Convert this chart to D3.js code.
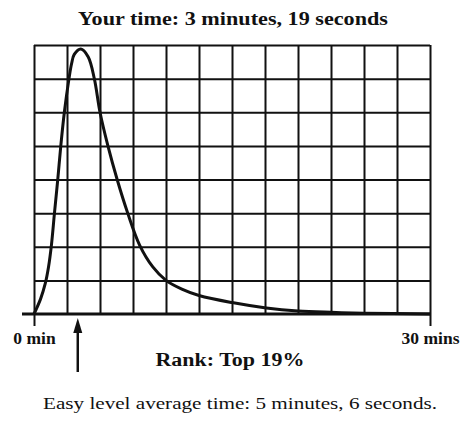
<!DOCTYPE html>
<html>
<head>
<meta charset="utf-8">
<script src="https://cdn.jsdelivr.net/npm/d3@7"></script>
<style>
  html, body { margin: 0; padding: 0; background: #fff; }
  svg { display: block; }
  text { font-family: "Liberation Serif", "Times New Roman", serif; fill: #111; }
</style>
</head>
<body>
<div class="container"></div>
<script>
// finishing times (minutes) and share of players
var minutes = [0, 0.5, 0.85, 1.1, 1.32, 1.55, 1.8, 2.03, 2.3, 2.65, 2.85, 3.05, 3.55, 4.1, 4.57, 5.0, 5.6, 6.3, 7.1, 8.0, 9.0, 10.0, 11.2, 12.5, 15.0, 17.6, 20, 22.5, 25, 30];
var players = [0, 0.45, 0.9, 1.4, 2.05, 3.0, 4.0, 5.0, 6.0, 7.0, 7.45, 7.72, 7.88, 7.65, 7.0, 6.0, 5.0, 4.0, 3.0, 2.05, 1.4, 1.0, 0.74, 0.55, 0.34, 0.18, 0.09, 0.05, 0.025, 0];

var gridMinutes = [0, 2.5, 5, 7.5, 10, 12.5, 15, 17.5, 20, 22.5, 25, 27.5, 30];
var gridLevels = [1, 2, 3, 4, 5, 6, 7, 8];
var axisTicks = [0, 30];
var axisLabels = ["0 min", "30 mins"];

var yourTime = 3 + 19 / 60;
var titleText = "Your time: 3 minutes, 19 seconds";
var rankText = "Rank: Top 19%";
var averageText = "Easy level average time: 5 minutes, 6 seconds.";

var config = {
    width: 464,
    height: 436,
    left: 34,
    right: 430,
    top: 45,
    bottom: 314
};

var svg = d3.select(".container").append("svg")
    .attr("width", config.width)
    .attr("height", config.height);

svg.append("rect")
    .attr("width", config.width)
    .attr("height", config.height)
    .attr("fill", "#fff");

var x = d3.scaleLinear().domain([0, 30]).range([config.left, config.right]);
var y = d3.scaleLinear().domain([0, 8]).range([config.bottom, config.top]);

// vertical grid lines
var vGrid = svg.append("g")
    .attr("transform", `translate(0,${config.bottom})`)
    .call(d3.axisBottom(x).tickValues(gridMinutes).tickSize(-(config.bottom - config.top)).tickFormat(""));
vGrid.select(".domain").remove();
vGrid.selectAll(".tick line").attr("stroke", "#111").attr("stroke-width", 2);

// horizontal grid lines
var hGrid = svg.append("g")
    .attr("transform", `translate(${config.left},0)`)
    .call(d3.axisLeft(y).tickValues(gridLevels).tickSize(-(config.right - config.left)).tickFormat(""));
hGrid.select(".domain").remove();
hGrid.selectAll(".tick line").attr("stroke", "#111").attr("stroke-width", 2);

// baseline with end labels
var xAxis = svg.append("g")
    .attr("transform", `translate(0,${config.bottom})`)
    .call(d3.axisBottom(x).tickValues(axisTicks).tickSize(12).tickPadding(8)
        .tickFormat((d, i) => axisLabels[i]));
xAxis.select(".domain").remove();
xAxis.selectAll(".tick line").attr("stroke", "#111").attr("stroke-width", 2);
xAxis.selectAll(".tick text")
    .attr("fill", "#111")
    .attr("dy", "0.55em")
    .style("font-family", '"Liberation Serif", serif')
    .style("font-size", "17.5px")
    .style("font-weight", "bold");

svg.append("line")
    .attr("x1", config.left - 12).attr("x2", config.right)
    .attr("y1", config.bottom).attr("y2", config.bottom)
    .attr("stroke", "#111").attr("stroke-width", 3);

// distribution curve
var line = d3.line()
    .x((d, i) => x(minutes[i]))
    .y((d) => y(d))
    .curve(d3.curveCatmullRom.alpha(0.5));

svg.append("path")
    .datum(players)
    .attr("d", line)
    .attr("fill", "none")
    .attr("stroke", "#111")
    .attr("stroke-width", 3)
    .attr("stroke-linejoin", "round");

// arrow marking your time
var ax = x(yourTime);
svg.append("line")
    .attr("x1", ax).attr("x2", ax)
    .attr("y1", config.bottom + 12).attr("y2", 372)
    .attr("stroke", "#111").attr("stroke-width", 2.5);
svg.append("path")
    .attr("d", `M${ax},${config.bottom + 4} L${ax - 4.5},${config.bottom + 19} L${ax + 4.5},${config.bottom + 19} Z`)
    .attr("fill", "#111");

// texts
svg.append("text")
    .attr("x", 233).attr("y", 25)
    .attr("text-anchor", "middle")
    .attr("textLength", 310).attr("lengthAdjust", "spacingAndGlyphs")
    .style("font-size", "18px").style("font-weight", "bold")
    .text(titleText);

svg.append("text")
    .attr("x", 230).attr("y", 366)
    .attr("text-anchor", "middle")
    .attr("textLength", 149).attr("lengthAdjust", "spacingAndGlyphs")
    .style("font-size", "18px").style("font-weight", "bold")
    .text(rankText);

svg.append("text")
    .attr("x", 240).attr("y", 409)
    .attr("text-anchor", "middle")
    .attr("textLength", 394).attr("lengthAdjust", "spacingAndGlyphs")
    .style("font-size", "17px")
    .text(averageText);
</script>
</body>
</html>
